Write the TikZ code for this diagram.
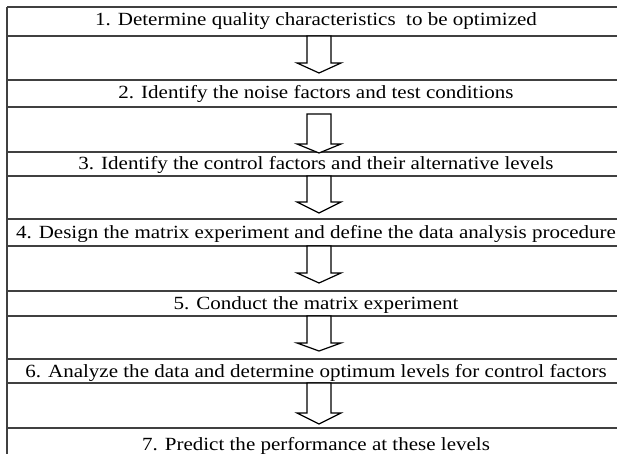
\documentclass[tikz,border=0pt]{standalone}
\usepackage{fontspec}
\setmainfont{Liberation Serif}[FakeStretch=1.13]

\begin{document}
\begin{tikzpicture}[x=1pt, y=-1pt,
		rule/.style={draw=black!75, line width=1.4pt},
		steptext/.style={font=\fontsize{18.6}{20}\selectfont, anchor=base, inner sep=0pt},
		flowarrow/.style={draw=black, line width=1.2pt, fill=white, line join=miter}]
	\useasboundingbox (0,0) rectangle (617,454);

	% table rules
	\foreach \y in {7,36,80,107,152,176,219,246,291,316,359,383,428}
		\draw[rule] (7,\y) -- (617,\y);
	\draw[rule] (7,7) -- (7,454);

	\node[steptext] (step1) at (316,26) {1. Determine quality characteristics \ to be optimized};
	\node[steptext] (step2) at (316,99) {2. Identify the noise factors and test conditions};
	\node[steptext] (step3) at (316,170) {3. Identify the control factors and their alternative levels};
	\node[steptext] (step4) at (316,238) {4. Design the matrix experiment and define the data analysis procedure};
	\node[steptext] (step5) at (316,309) {5. Conduct the matrix experiment};
	\node[steptext] (step6) at (316,377) {6. Analyze the data and determine optimum levels for control factors};
	\node[steptext] (step7) at (316,450) {7. Predict the performance at these levels};

	% block arrows: shaft top / head base / tip
	\foreach \t/\b/\p in {36/63/73, 114/144/153, 176/202/213, 246/273/283, 316/343/351, 383/413/424}
		\draw[flowarrow] (307,\t) -- (331,\t) -- (331,\b) -- (341,\b) -- (319,\p)
			-- (297,\b) -- (307,\b) -- cycle;
\end{tikzpicture}
\end{document}
